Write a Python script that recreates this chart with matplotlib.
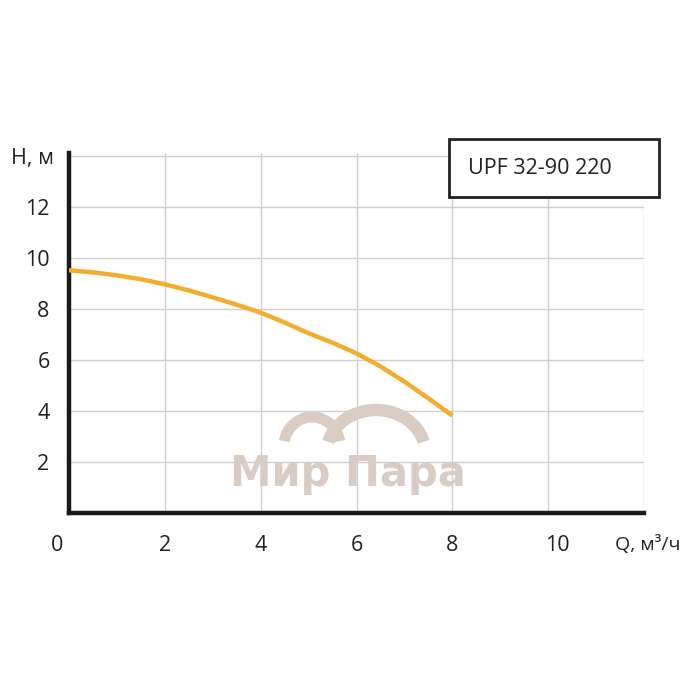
import matplotlib
matplotlib.use("Agg")
import matplotlib.pyplot as plt
from matplotlib.patches import Arc, Rectangle
from matplotlib.transforms import ScaledTranslation

# Data
flow_q = [0, 0.5, 1, 1.5, 2, 2.5, 3, 3.5, 4, 4.5, 5, 5.5, 6, 6.5, 7, 7.5, 8]
head_h = [9.52, 9.44, 9.32, 9.17, 8.97, 8.73, 8.46, 8.17, 7.86, 7.47, 7.05, 6.68,
          6.26, 5.75, 5.15, 4.50, 3.82]
x_ticks = [0, 2, 4, 6, 8, 10, 12]
x_labels = ["0", "2", "4", "6", "8", "10", "Q, м³/ч"]
y_ticks = [2, 4, 6, 8, 10, 12, 14]
y_labels = ["2", "4", "6", "8", "10", "12", "H, м"]
title_text = "UPF 32-90 220"
watermark = "Мир Пара"

plt.rcParams['font.family'] = ['Open Sans', 'DejaVu Sans']

fig = plt.figure(figsize=(7, 7), dpi=100)
fig.patch.set_facecolor("white")

# watermark overlay (pixel coords, y up)
wm = fig.add_axes([0, 0, 1, 1], zorder=0)
wm.set_xlim(0, 700)
wm.set_ylim(0, 700)
wm.axis("off")

ax = fig.add_axes([69/700, 187/700, (644-69)/700, (513-153)/700], zorder=1)
ax.patch.set_alpha(0)
ax.set_xlim(0, 12)
ax.set_ylim(0, 14.12)

ax.set_xticks(x_ticks)
ax.set_xticklabels(x_labels)
ax.set_yticks(y_ticks)
ax.set_yticklabels(y_labels)
ax.tick_params(axis="both", length=0, labelsize=15.5, colors="#222222")
ax.tick_params(axis="x", pad=16)
ax.tick_params(axis="y", pad=14)

# offsets for some labels
xl = ax.get_xticklabels()
xl[0].set_transform(xl[0].get_transform() + ScaledTranslation(-12/100, 0, fig.dpi_scale_trans))
xl[5].set_transform(xl[5].get_transform() + ScaledTranslation(9/100, 0, fig.dpi_scale_trans))
xl[6].set_transform(xl[6].get_transform() + ScaledTranslation(4/100, 0, fig.dpi_scale_trans))
xl[6].set_fontsize(14)
yl = ax.get_yticklabels()
yl[6].set_transform(yl[6].get_transform() + ScaledTranslation(4/100, 0, fig.dpi_scale_trans))

ax.grid(True, color="#cfcfcf", linewidth=1.0)
ax.set_axisbelow(True)
for s in ["top", "right"]:
    ax.spines[s].set_visible(False)
ax.spines["left"].set_linewidth(3.2)
ax.spines["bottom"].set_linewidth(3.2)
ax.spines["left"].set_color("#1a1a1a")
ax.spines["bottom"].set_color("#1a1a1a")

ax.plot(flow_q, head_h, color="#f2ac2e", linewidth=3.2, solid_capstyle="butt", zorder=3)

# title box
box = Rectangle((449/700, 1 - 197/700), (659-449)/700, (197-139)/700,
                transform=fig.transFigure, facecolor="white", edgecolor="#222222",
                linewidth=2.0, zorder=5)
fig.patches.append(box)
fig.text(468/700, 1 - 169/700, title_text, fontsize=15.5, color="#222222",
         va="center", ha="left", zorder=6)

# watermark
wc = "#d9ccc4"
wm.add_patch(Arc((312, 700 - 446), 56, 58, theta1=10, theta2=170, color=wc, linewidth=8))
wm.add_patch(Arc((376, 700 - 452), 98, 84, theta1=12, theta2=168, color=wc, linewidth=9))
wm.text(348, 700 - 474, watermark, fontsize=30, fontweight="bold", color=wc,
        ha="center", va="center", family=["DejaVu Sans"])

fig.savefig("out.png", dpi=100, facecolor="white")
